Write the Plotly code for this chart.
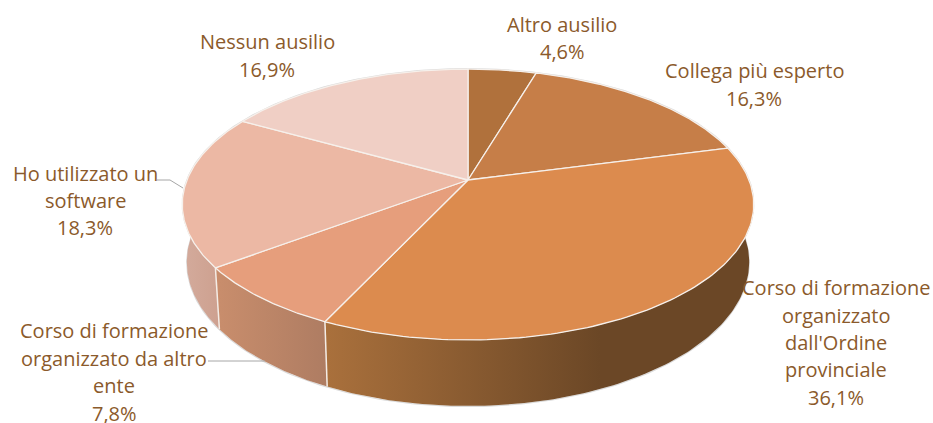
import numpy as np
import plotly.graph_objects as go

# ---- data ----
categories = ["Altro ausilio", "Collega più esperto",
              "Corso di formazione<br>organizzato<br>dall'Ordine<br>provinciale",
              "Corso di formazione<br>organizzato da altro<br>ente",
              "Ho utilizzato un<br>software", "Nessun ausilio"]
values = [4.6, 16.3, 36.1, 7.8, 18.3, 16.9]
value_labels = ["4,6%", "16,3%", "36,1%", "7,8%", "18,3%", "16,9%"]
top_colors = ["#B0713C", "#C67E48", "#DC8B4E", "#E69E7C", "#ECB8A4", "#F0CFC5"]
side_stops = {2: [[0, "#A9703C"], [1, "#6B4726"]],
              3: [[0, "#C88D6C"], [1, "#AE7C62"]],
              4: [[0, "#D3AA9B"], [1, "#CDA08F"]]}
label_xy = [(562, 38), (754, 84.5), (836, 342.5), (114, 372), (85, 200.5), (267, 55.5)]
LINE_STEP = 27.4

# ---- 3D pie geometry (perspective of a tilted disc) ----
CX, CY = 468.0, 180.0
K, A, B = 0.181, 281.0, 131.0
TOP_CY, TOP_RY, TOP_RX = 204.5, 135.5, 286.0
BOT_CY, BOT_RY, BOT_RX = 262.0, 144.0, 281.5


def rim(theta):
    u, v = np.sin(theta), np.cos(theta)
    w = 1 + K * v
    return CX + A * u / w, CY - B * v / w


def lower(x, y):
    return CX + (x - CX) * BOT_RX / TOP_RX, BOT_CY + (y - TOP_CY) * BOT_RY / TOP_RY


def arc(f0, f1, n=120):
    return rim(np.linspace(f0, f1, n) * 2 * np.pi)


total = sum(values)
edges = np.concatenate([[0], np.cumsum(values)]) / total

fig = go.Figure()

# faint outer rim
xt, yt = arc(0, 1, 360)
xb, yb = lower(xt, yt)
fig.add_trace(go.Scatter(x=xb, y=yb + 0.6, mode="lines", line=dict(color="#DADADA", width=1.2)))
fig.add_trace(go.Scatter(x=xt, y=yt - 0.5, mode="lines", line=dict(color="#DADADA", width=1.2)))

# side walls
side_ranges = {2: (0.25, edges[3]), 3: (edges[3], edges[4]), 4: (edges[4], 0.76)}
grad_x = {2: (328, 600), 3: (220, 328), 4: (186, 220)}
for i in [4, 3, 2]:
    x1, y1 = arc(*side_ranges[i])
    x2, y2 = lower(x1, y1)
    fig.add_trace(go.Scatter(
        x=np.concatenate([x1, x2[::-1]]), y=np.concatenate([y1, y2[::-1]]),
        mode="lines", fill="toself", line=dict(width=0, color="rgba(0,0,0,0)"),
        fillgradient=dict(type="horizontal", colorscale=side_stops[i],
                          start=grad_x[i][0], stop=grad_x[i][1])))
for f in [edges[3], edges[4]]:
    x1, y1 = rim(f * 2 * np.pi)
    x2, y2 = lower(x1, y1)
    fig.add_trace(go.Scatter(x=[x1, x2], y=[y1, y2], mode="lines",
                             line=dict(color="#F4ECE6", width=1.5)))

# top face
for i, c in enumerate(top_colors):
    x, y = arc(edges[i], edges[i + 1])
    fig.add_trace(go.Scatter(
        x=np.concatenate([[CX], x, [CX]]), y=np.concatenate([[CY], y, [CY]]),
        mode="lines", fill="toself", fillcolor=c,
        line=dict(color="#F6F0EB", width=1.3)))

# leader lines
fig.add_trace(go.Scatter(x=[157, 170, 183], y=[180, 180, 188], mode="lines",
                         line=dict(color="#A6A6A6", width=1)))
fig.add_trace(go.Scatter(x=[208, 265], y=[361, 361], mode="lines",
                         line=dict(color="#A6A6A6", width=1)))

for cat, val, (lx, ly) in zip(categories, value_labels, label_xy):
    lines = cat.split("<br>") + [val]
    for j, line in enumerate(lines):
        fig.add_annotation(x=lx, y=ly + (j - (len(lines) - 1) / 2) * LINE_STEP, text=line,
                           showarrow=False, xanchor="center", yanchor="middle",
                           font=dict(family="Open Sans", size=20, color="#8B5A2B"))

fig.update_layout(
    width=933, height=423, margin=dict(l=0, r=0, t=0, b=0),
    paper_bgcolor="white", plot_bgcolor="white", showlegend=False,
    hovermode=False,
    xaxis=dict(range=[0, 933], visible=False, fixedrange=True),
    yaxis=dict(range=[423, 0], visible=False, fixedrange=True),
)
fig.write_html("out.html", config=dict(displayModeBar=False),
               post_script="document.body.style.margin='0';")
